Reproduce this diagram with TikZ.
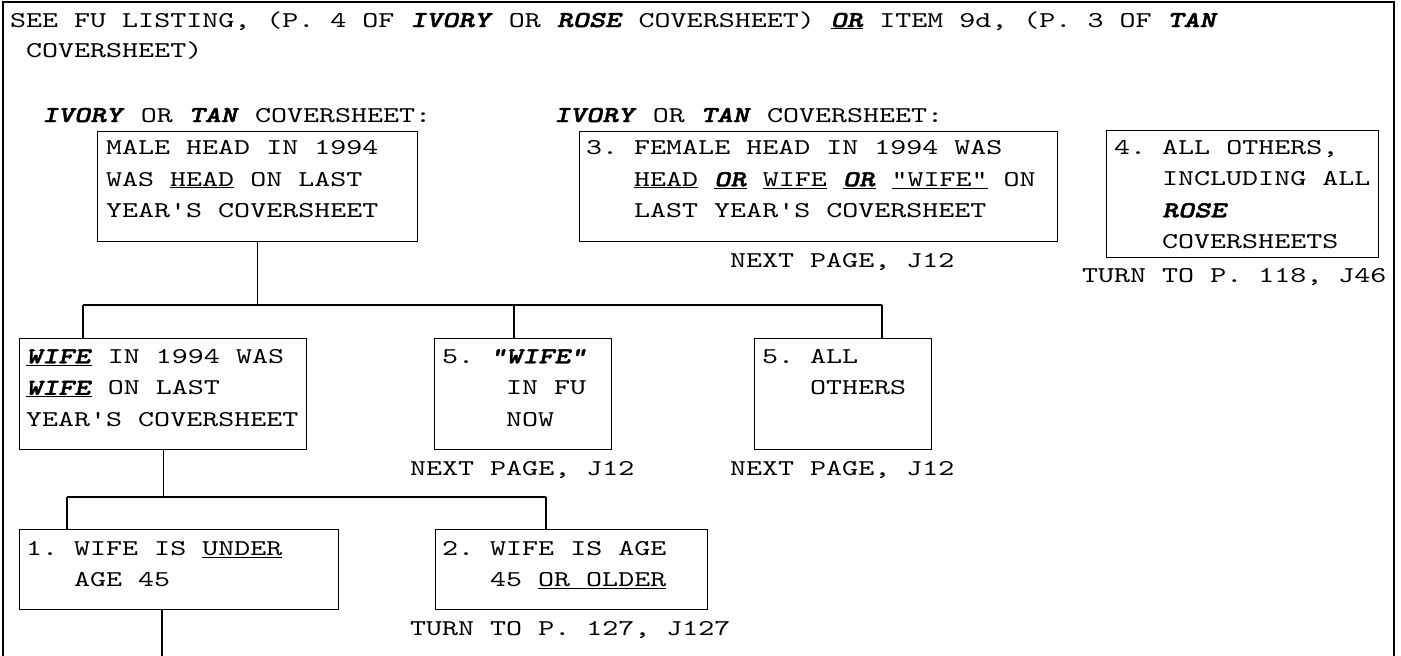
\documentclass[tikz,border=0pt]{standalone}
\usepackage{fontspec}
\setmonofont{lmmono10-regular.otf}[BoldFont=lmmonolt10-bold.otf, ItalicFont=lmmono10-italic.otf, BoldItalicFont=lmmonolt10-boldoblique.otf, BoldItalicFeatures={FakeBold=2}, FakeStretch=1.349]
\newcommand\bix[1]{\textbf{\textit{#1}}}
\newcommand\ulx[1]{\underline{#1}}
\begin{document}
\begin{tikzpicture}[x=1pt,y=1pt,
  lw/.style={line width=1.3pt},
  box/.style={draw, lw, rectangle, inner sep=0pt, anchor=north west},
  txt/.style={inner sep=0pt, font=\ttfamily\fontsize{22.6}{31.5}\selectfont},
  blk/.style={txt, align=left, anchor=north west},
  lbl/.style={txt, anchor=base west},
  link/.style={lw}]
\useasboundingbox (0,0) rectangle (1401,-656);
% outer frame (open at bottom)
\draw[lw] (3,-656) -- (3,-2) -- (1394,-2) -- (1394,-656);

% header
\node[lbl] (hdr1) at (10,-27) {SEE FU LISTING, (P. 4 OF \bix{IVORY} OR \bix{ROSE} COVERSHEET) \ulx{\bix{OR}} ITEM 9d, (P. 3 OF \bix{TAN}};
\node[lbl] (hdr2) at (26,-57) {COVERSHEET)};
\node[lbl] (lab1) at (42,-122) {\bix{IVORY} OR \bix{TAN} COVERSHEET:};
\node[lbl] (lab2) at (554,-122) {\bix{IVORY} OR \bix{TAN} COVERSHEET:};

% boxes
\node[box, minimum width=320pt, minimum height=110pt] (male) at (97,-131) {};
\node[box, minimum width=478pt, minimum height=110pt] (fem) at (579,-131) {};
\node[box, minimum width=272pt, minimum height=127pt] (oth) at (1106,-130) {};
\node[box, minimum width=287pt, minimum height=111pt] (wife) at (19,-338) {};
\node[box, minimum width=177pt, minimum height=111pt] (fwife) at (434,-338) {};
\node[box, minimum width=177pt, minimum height=111pt] (fall) at (754,-338) {};
\node[box, minimum width=319pt, minimum height=80pt] (under) at (19,-529) {};
\node[box, minimum width=272pt, minimum height=80pt] (older) at (435,-529) {};

% box texts
\node[blk] (maletx) at (106,-132.5) {\strut MALE HEAD IN 1994\\\strut WAS \ulx{HEAD} ON LAST\\\strut YEAR'S COVERSHEET};
\node[blk] (femtx) at (586,-132.5) {\strut 3. FEMALE HEAD IN 1994 WAS\\\strut\hspace*{48pt}\ulx{HEAD} \ulx{\bix{OR}} \ulx{WIFE} \ulx{\bix{OR}} \ulx{"WIFE"} ON\\\strut\hspace*{48pt}LAST YEAR'S COVERSHEET};
\node[blk] (othtx) at (1114,-132) {\strut 4. ALL OTHERS,\\\strut\hspace*{48pt}INCLUDING ALL\\\strut\hspace*{48pt}\bix{ROSE}\\\strut\hspace*{48pt}COVERSHEETS};
\node[blk] (wifetx) at (26,-341) {\strut\ulx{\bix{WIFE}} IN 1994 WAS\\\strut\ulx{\bix{WIFE}} ON LAST\\\strut YEAR'S COVERSHEET};
\node[blk] (fwifetx) at (442,-341) {\strut 5. \bix{"WIFE"}\\\strut\hspace*{64pt}IN FU\\\strut\hspace*{64pt}NOW};
\node[blk] (falltx) at (762,-341) {\strut 5. ALL\\\strut\hspace*{48pt}OTHERS};
\node[blk] (undertx) at (26,-533) {\strut 1. WIFE IS \ulx{UNDER}\\\strut\hspace*{48pt}AGE 45};
\node[blk] (oldertx) at (442,-533) {\strut 2. WIFE IS AGE\\\strut\hspace*{48pt}45 \ulx{OR OLDER}};

% routing labels
\node[lbl] (nxt1) at (730,-267) {NEXT PAGE, J12};
\node[lbl] (turn1) at (1082,-282) {TURN TO P. 118, J46};
\node[lbl] (nxt2) at (410,-475) {NEXT PAGE, J12};
\node[lbl] (nxt3) at (730,-475) {NEXT PAGE, J12};
\node[lbl] (turn2) at (410,-635) {TURN TO P. 127, J127};

% connectors, upper tree
\coordinate (j1) at (83,-305);
\coordinate (j2) at (514,-305);
\coordinate (j3) at (882,-305);
\draw[link] (male.south) -- (male.south |- j1);
\draw[link] (j1) -- (j3);
\draw[link] (j1) -- (j1 |- wife.north);
\draw[link] (j2) -- (j2 |- fwife.north);
\draw[link] (j3) -- (j3 |- fall.north);

% connectors, lower tree
\coordinate (k1) at (67,-497);
\coordinate (k2) at (546,-497);
\coordinate (k3) at (162,-656);
\draw[link] (wife.south) -- (wife.south |- k1);
\draw[link] (k1) -- (k2);
\draw[link] (k1) -- (k1 |- under.north);
\draw[link] (k2) -- (k2 |- older.north);
\draw[link] (k3 |- under.south) -- (k3);
\end{tikzpicture}
\end{document}
